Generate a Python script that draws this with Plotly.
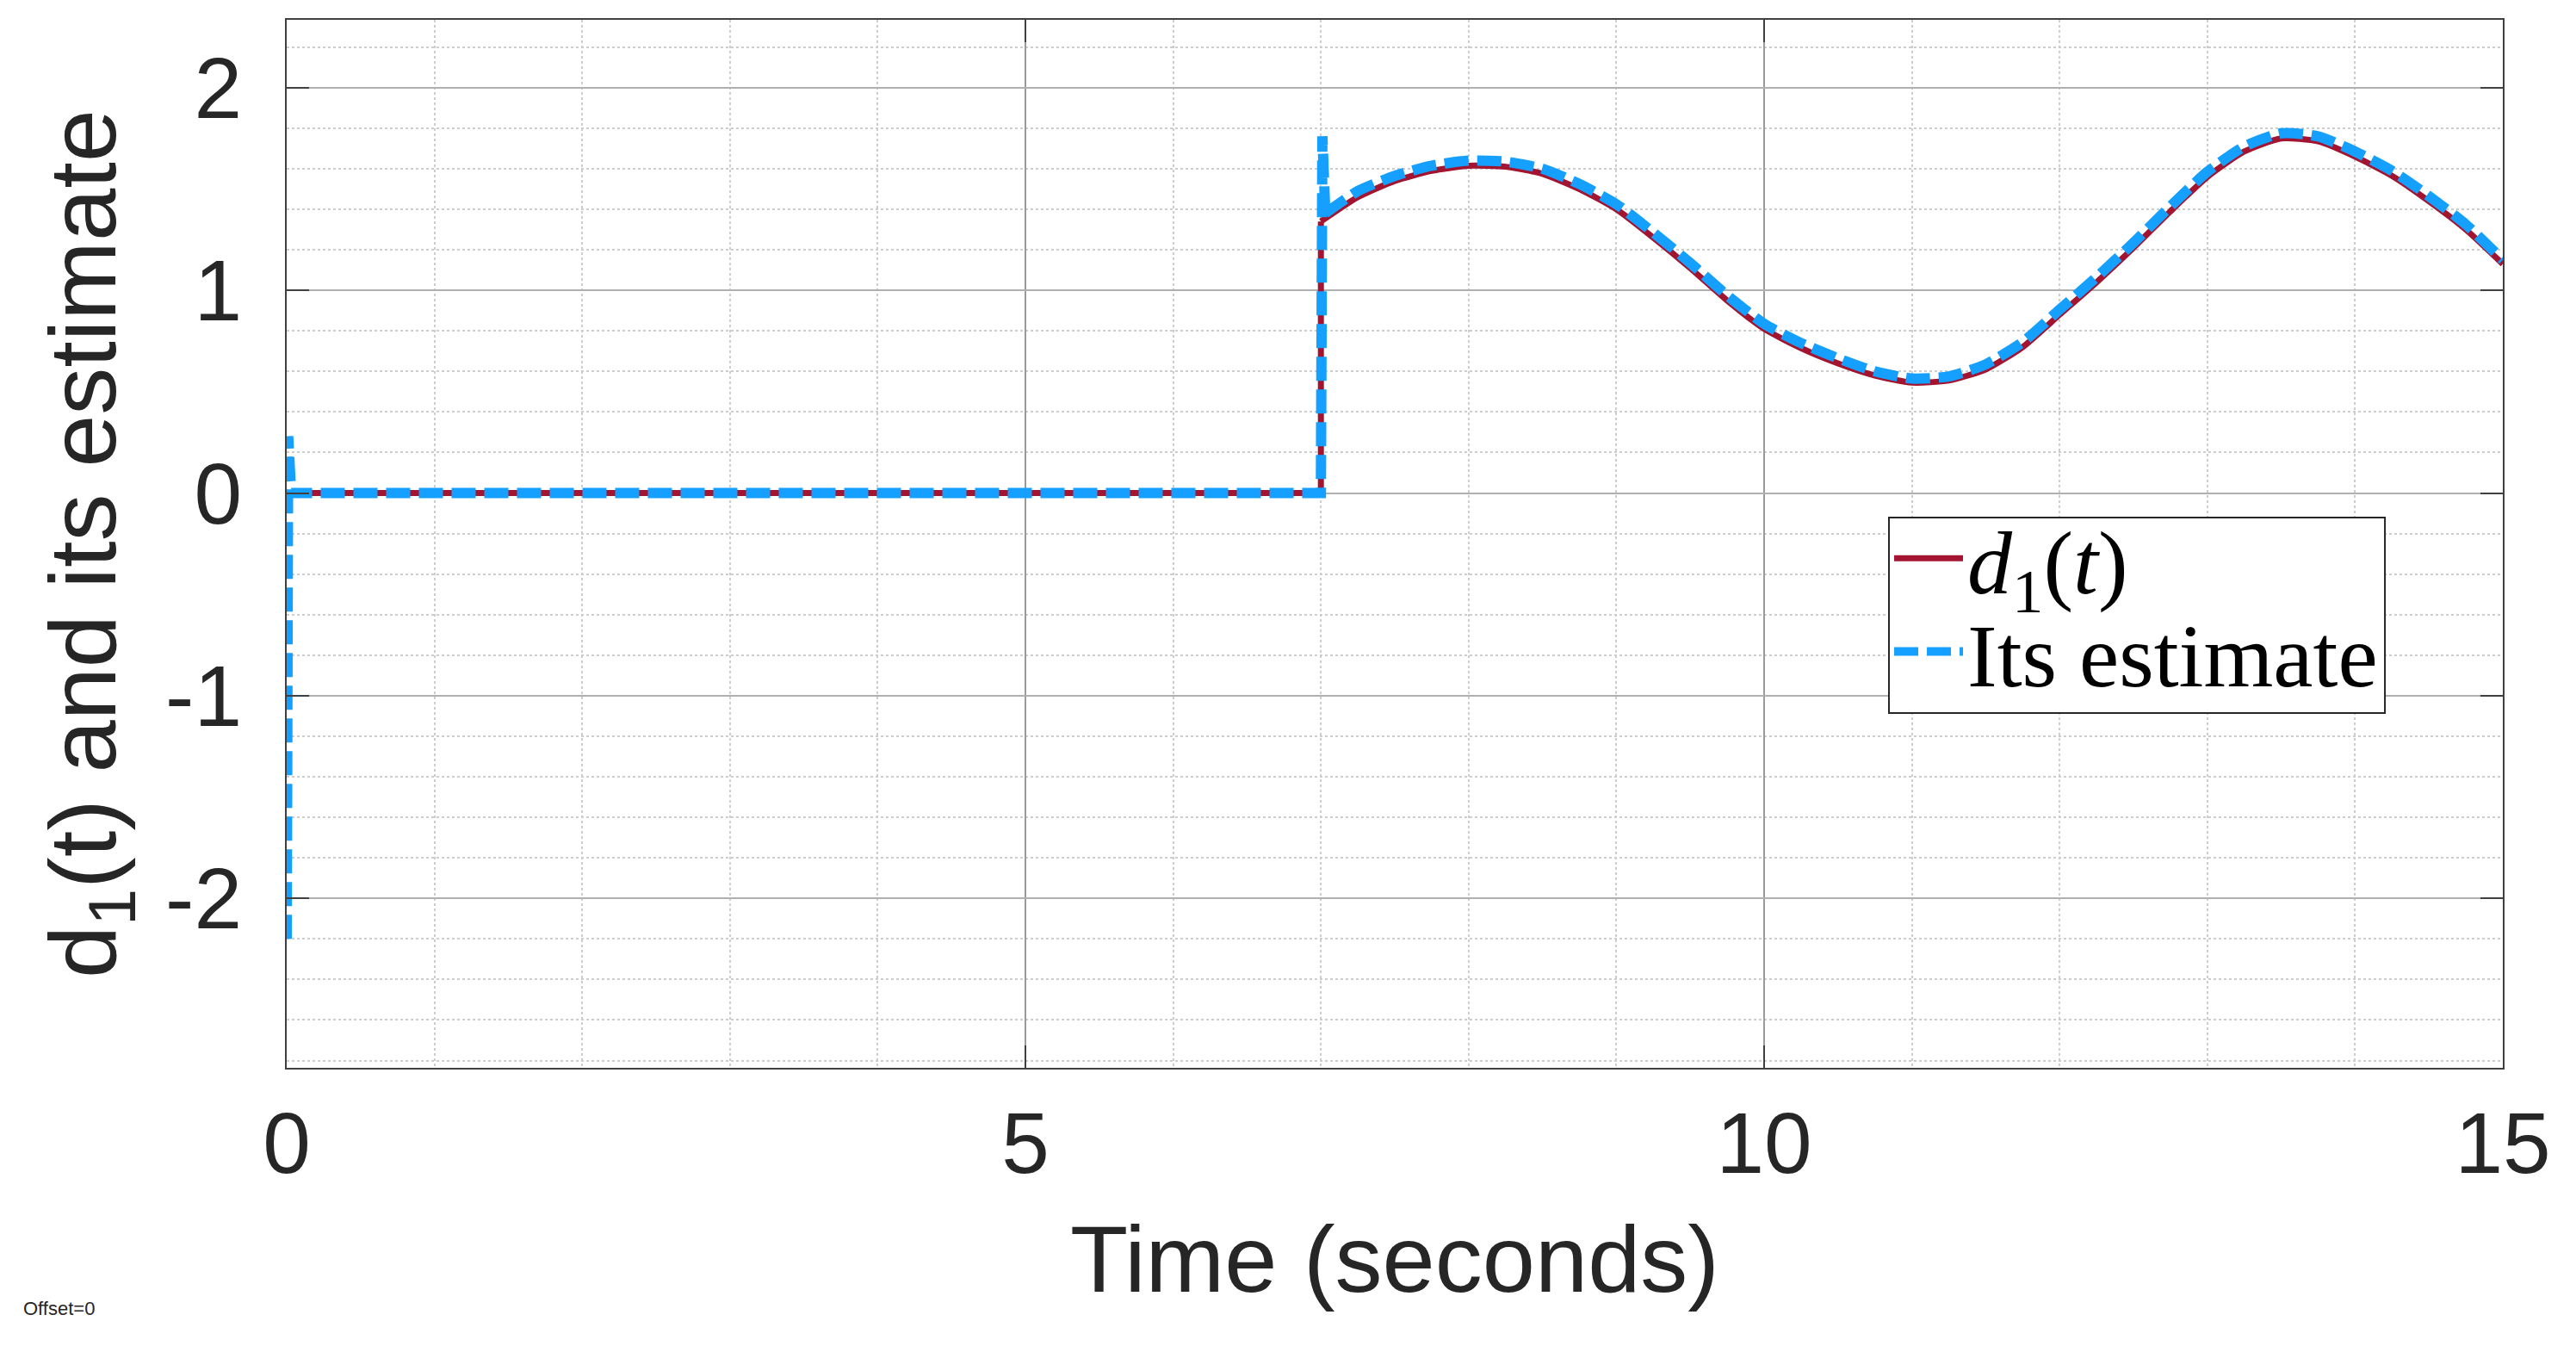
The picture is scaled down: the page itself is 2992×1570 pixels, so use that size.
import plotly.graph_objects as go

# d1(t): zero until t = 7 s, then a step followed by a slow oscillation
t_d1_step = [0, 7.0, 7.0]
d1_step = [0, 0, 1.34]
t_d1_wave = [7.0, 7.25, 7.5, 7.75, 8.0, 8.25, 8.5, 8.75, 9.0, 9.25, 9.5, 9.75,
             10.0, 10.25, 10.5, 10.75, 11.0, 11.25, 11.5, 11.75, 12.0, 12.25, 12.5, 12.75,
             13.0, 13.25, 13.5, 13.75, 14.0, 14.25, 14.5, 14.75, 15.0]
d1_wave = [1.34, 1.46, 1.54, 1.59, 1.615, 1.61, 1.575, 1.50, 1.40, 1.26, 1.11, 0.95,
           0.81, 0.715, 0.64, 0.58, 0.545, 0.555, 0.61, 0.72, 0.88, 1.04, 1.21, 1.39,
           1.56, 1.685, 1.75, 1.735, 1.66, 1.565, 1.44, 1.30, 1.13]

# estimate: initial transient at t = 0, overshoot at t = 7, then tracks d1
t_est_step = [0, 0.01, 0.03, 7.0, 7.0, 7.01, 7.03]
est_step = [-2.2, 0.28, 0, 0, 0, 1.76, 1.38]
t_est_wave = [7.03, 7.25, 7.5, 7.75, 8.0, 8.25, 8.5, 8.75,
              9.0, 9.25, 9.5, 9.75, 10.0, 10.25, 10.5, 10.75, 11.0, 11.25, 11.5, 11.75,
              12.0, 12.25, 12.5, 12.75, 13.0, 13.25, 13.5, 13.75, 14.0, 14.25, 14.5, 14.75, 15.0]
est_wave = [1.38, 1.49, 1.565, 1.615, 1.64, 1.635, 1.60, 1.525,
            1.425, 1.285, 1.135, 0.975, 0.835, 0.74, 0.665, 0.60, 0.565, 0.575, 0.635, 0.745,
            0.905, 1.065, 1.235, 1.415, 1.585, 1.71, 1.775, 1.76, 1.685, 1.59, 1.465, 1.325, 1.15]

xticks = [0, 5, 10, 15]
yticks = [-2, -1, 0, 1, 2]
yticklabels = ['-2', '-1', '0', '1', '2']

red = '#A2142F'
blue = '#15A0FF'

fig = go.Figure()
fig.add_trace(go.Scatter(x=t_d1_step, y=d1_step, mode='lines', legend='legend',
                         name='<i>d</i><sub>1</sub>(<i>t</i>)',
                         line=dict(color=red, width=7)))
fig.add_trace(go.Scatter(x=t_d1_wave, y=d1_wave, mode='lines', showlegend=False,
                         line=dict(color=red, width=7, shape='spline', smoothing=0.6)))
fig.add_trace(go.Scatter(x=t_est_step, y=est_step, mode='lines', legend='legend2',
                         name='Its estimate',
                         line=dict(color=blue, width=12, dash='28px,10px')))
fig.add_trace(go.Scatter(x=t_est_wave, y=est_wave, mode='lines', showlegend=False,
                         line=dict(color=blue, width=12, dash='28px,10px',
                                   shape='spline', smoothing=0.6)))

axis_font = dict(family='Liberation Sans, Arial', size=100, color='#262626')
title_font = dict(family='Liberation Sans, Arial', size=110, color='#262626')
legend_font = dict(family='Liberation Serif, Times New Roman', size=104, color='black')

fig.update_xaxes(range=[0, 15], tickvals=xticks, ticks='inside', ticklen=26, tickwidth=2,
                 tickcolor='#404040', mirror='ticks', showline=True, linecolor='#404040',
                 linewidth=2, showgrid=True, gridcolor='#9a9a9a', gridwidth=2,
                 minor=dict(dtick=1, showgrid=True, gridcolor='#cdcdcd', gridwidth=1.5,
                            griddash='dot'),
                 zeroline=False, tickfont=axis_font, ticklabelstandoff=0,
                 title=dict(text='Time (seconds)', standoff=41, font=title_font))
fig.update_yaxes(range=[-2.836, 2.335], tickvals=yticks, ticktext=yticklabels, ticks='inside',
                 ticklen=26, tickwidth=2, tickcolor='#404040', mirror='ticks', showline=True,
                 linecolor='#404040', linewidth=2, showgrid=True, gridcolor='#b0b0b0', gridwidth=2,
                 minor=dict(dtick=0.2, showgrid=True, gridcolor='#cdcdcd', gridwidth=1.5,
                            griddash='dot'),
                 zeroline=False, tickfont=axis_font, ticklabelstandoff=30,
                 title=dict(text='d<sub>1</sub>(t) and its estimate', standoff=21, font=title_font))

# page body adds 8px, so the canvas is 8px smaller and margins shifted
fig.update_layout(width=2984, height=1562, margin=dict(l=325, r=85, t=15, b=330, autoexpand=False),
                  plot_bgcolor='white', paper_bgcolor='white',
                  legend=dict(x=0.7234, y=0.486, xanchor='left', yanchor='middle',
                              bgcolor='rgba(0,0,0,0)', borderwidth=0, itemwidth=80,
                              font=legend_font),
                  legend2=dict(x=0.7234, y=0.397, xanchor='left', yanchor='middle',
                               bgcolor='rgba(0,0,0,0)', borderwidth=0, itemwidth=80,
                               font=legend_font))

# legend frame
fig.add_shape(type='rect', xref='paper', yref='paper', x0=0.7230, x1=0.9468, y0=0.3385, y1=0.5251,
              line=dict(color='#262626', width=2), fillcolor='white', layer='above')

fig.add_annotation(text='Offset=0', xref='paper', yref='paper', x=-0.1197, y=-0.23,
                   xanchor='left', yanchor='middle', showarrow=False,
                   font=dict(family='Liberation Sans, Arial', size=22, color='#262626'))

fig.write_html('out.html')
